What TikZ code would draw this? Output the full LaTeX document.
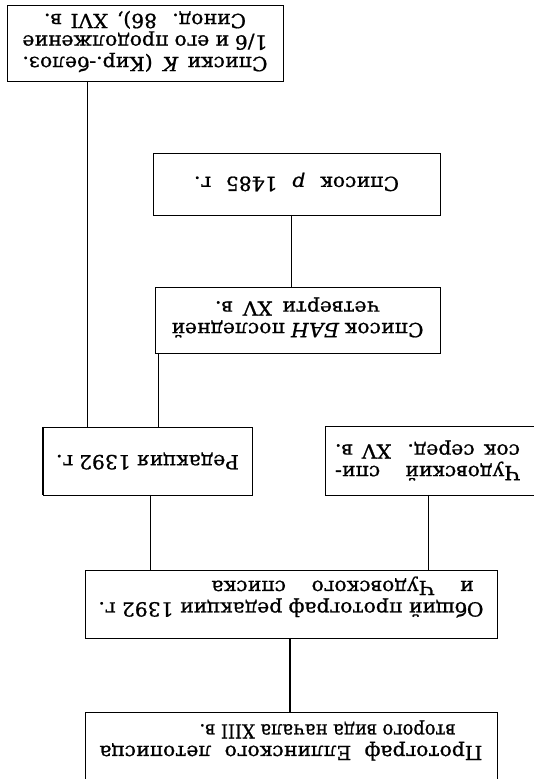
\documentclass[tikz,border=0pt]{standalone}
\usepackage{fontspec}
\usepackage{graphicx}
\setmainfont{DejaVu Serif}[FakeBold=0.9]

% horizontal widening of the type
\newcommand{\sx}{1.04}
% a line spread to a given final width (pt)
\newcommand{\jl}[2]{\scalebox{\sx}[1]{\makebox[\dimexpr #1pt*25/26\relax][s]{#2}}}
% a line at its natural width
\newcommand{\nl}[1]{\scalebox{\sx}[1]{#1}}
% a line squeezed or widened to a given width (pt)
\newcommand{\fl}[2]{\resizebox{#1pt}{\height}{#2}}
% box contents, set upside down: width, height, vertical offset, lines
\newcommand{\flipbox}[4]{\rotatebox{180}{\parbox[c][#2pt][c]{#1pt}{\centering
  \fontsize{19.5}{21.5}\selectfont\vspace*{#3pt}#4}}}

\tikzset{
  card/.style={draw, line width=0.8pt, inner sep=0pt, outer sep=0pt},
  link/.style={line width=0.9pt},
  heavylink/.style={line width=2pt}
}

\begin{document}
\begin{tikzpicture}[x=1pt,y=1pt]
\useasboundingbox (0,0) rectangle (534,779);
\fill[white] (0,0) rectangle (534,779);

% boxes
\node[card] (kir) at (145,736) {\flipbox{276}{76}{3}{%
  \jl{245}{Списки \textit{К} (Кир.-белоз.}\\
  \jl{245}{1/6 и его продолжение}\\
  \jl{202}{Синод. 86), XVI в.}}};

\node[card] (rho) at (296.5,595) {\flipbox{287}{62}{4}{%
  \jl{205}{Список \textit{р} 1485 г.}}};

\node[card] (ban) at (297.5,459) {\flipbox{285}{66}{5}{%
  \jl{252}{Список \textit{БАН} последней}\\
  \jl{165}{четверти XV в.}}};

\node[card] (red) at (147.5,318) {\flipbox{209}{68}{0}{%
  \jl{183}{Редакция 1392 г.}}};
\draw[line width=2.4pt] (red.north west) -- (red.south west);

\node[card] (chud) at (435,318.5) {\flipbox{220}{69}{0}{%
  \hspace*{15pt}\jl{185}{Чудовский спи-}\\
  \hspace*{15pt}\jl{185}{сок серед. XV в.}}};

\node[card] (common) at (291,175) {\flipbox{412}{68}{14}{%
  \jl{385}{Общий протограф редакции 1392 г.}\\
  \makebox[385pt][l]{\hspace*{10pt}\jl{262}{и Чудовского списка}}}};

\node[card] (proto) at (291,32.5) {\flipbox{412}{69}{12}{%
  \jl{383}{Протограф Еллинского летописца}\\
  \makebox[383pt][l]{\hspace*{27pt}\fl{256}{второго вида начала XIII в.}}}};

% connector positions
\coordinate (xk) at (87,0);
\coordinate (xrho) at (291,0);
\coordinate (xban) at (158,0);
\coordinate (xred) at (150,0);
\coordinate (xchud) at (428,0);
\coordinate (xcom) at (290,0);

% connectors
\draw[link] (kir.south -| xk) -- (red.north -| xk);
\draw[link] (rho.south -| xrho) -- (ban.north -| xrho);
\draw[link] (ban.south -| xban) -- (red.north -| xban);
\draw[link] (red.south -| xred) -- (common.north -| xred);
\draw[link] (chud.south -| xchud) -- (common.north -| xchud);
\draw[heavylink] (common.south -| xcom) -- (proto.north -| xcom);
\end{tikzpicture}
\end{document}
